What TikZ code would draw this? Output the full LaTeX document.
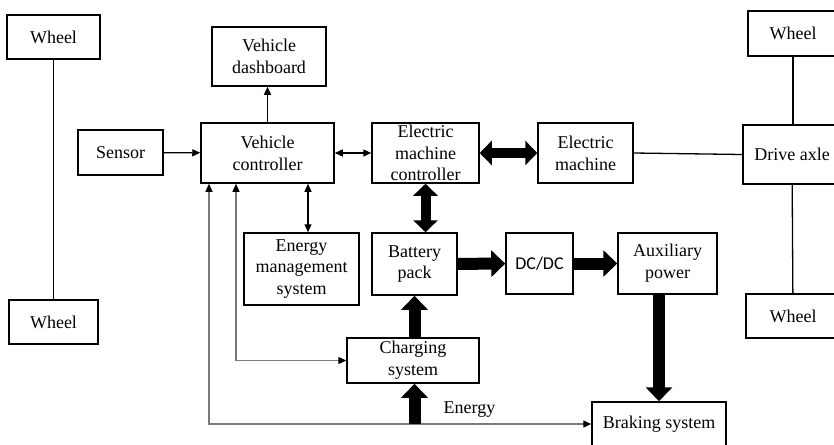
\documentclass[tikz,border=0pt]{standalone}
\usepackage{fontspec}
\setmainfont{Liberation Serif}
\newfontfamily\dcfont{Carlito}
\usepackage{xcolor}
\usepackage{tikz}
\usetikzlibrary{arrows.meta,positioning}
\definecolor{ink}{HTML}{000000}
\definecolor{wire}{HTML}{7A7A7A}

\begin{document}
\begin{tikzpicture}[x=1pt,y=-1pt,
    block/.style={draw=ink, line width=1.5pt, inner sep=0pt, align=center,
                  font=\fontsize{18}{21.7}\selectfont},
    link/.style={draw=ink, line width=1.3pt},
    sig/.style={link, -{Triangle[length=8pt,width=7pt]}},
    sigboth/.style={link, {Triangle[length=8pt,width=7pt]}-{Triangle[length=8pt,width=7pt]}},
    feed/.style={draw=wire, line width=1.2pt,
                 {Triangle[length=8pt,width=7pt,color=ink]}-{Triangle[length=8pt,width=7pt,color=ink]}},
    flow/.style={draw=ink, line width=12pt, -{Triangle[length=14pt,width=26pt]}},
    flowboth/.style={draw=ink, line width=10pt,
                     {Triangle[length=12pt,width=24pt]}-{Triangle[length=12pt,width=24pt]}}]
  \clip (0,0) rectangle (834,444);

  % wheels and drive axle
  \node[block, minimum width=93pt, minimum height=44pt] (wheelLT) at (53.5,37) {Wheel};
  \node[block, minimum width=89pt, minimum height=44pt] (wheelLB) at (53.5,322) {Wheel};
  \node[block, minimum width=90pt, minimum height=45pt] (wheelRT) at (793,33.5) {Wheel};
  \node[block, minimum width=94pt, minimum height=44pt] (wheelRB) at (793,316) {Wheel};
  \node[block, minimum width=98pt, minimum height=59pt] (axle) at (792,154.5) {Drive axle};

  % control side
  \node[block, minimum width=85pt, minimum height=45pt] (sensor) at (120.5,152.5) {Sensor};
  \node[block, minimum width=114pt, minimum height=59pt] (dash) at (269,56.5) {Vehicle\\dashboard};
  \node[block, minimum width=133pt, minimum height=60pt] (vc) at (267.5,153) {Vehicle\\controller};
  \node[block, minimum width=115pt, minimum height=72pt] (ems) at (301.5,269) {Energy\\management\\system};

  % power side
  \node[block, minimum width=107pt, minimum height=60pt] (emc) at (425.5,153) {Electric\\machine\\controller};
  \node[block, minimum width=95pt, minimum height=60pt] (em) at (585.5,153) {Electric\\machine};
  \node[block, minimum width=85pt, minimum height=62pt] (bat) at (414.5,264) {Battery\\pack};
  \node[block, minimum width=67pt, minimum height=61pt, font=\fontsize{18}{21.7}\dcfont] (dcdc) at (539.5,263.5) {DC/DC};
  \node[block, minimum width=99pt, minimum height=61pt] (aux) at (667.5,263.5) {Auxiliary\\power};
  \node[block, minimum width=132pt, minimum height=45pt] (chg) at (413,360.5) {Charging\\system};
  \node[block, minimum width=134pt, minimum height=44pt] (brake) at (659,424) {Braking system};

  % mechanical links
  \draw[link] (wheelLT) -- (wheelLB);
  \draw[link] (wheelRT.south) -- (wheelRT.south |- axle.north);
  \draw[link] (axle) -- (wheelRB);
  \draw[link] (em.east) -- (axle.west);

  % signals
  \draw[sig] (sensor) -- (vc);
  \draw[sig] (vc.north) -- (vc.north |- dash.south);
  \draw[sigboth] (vc) -- (emc);
  \draw[sigboth] ([xshift=6.5pt]ems.north |- vc.south) -- ([xshift=6.5pt]ems.north);
  \draw[feed] ([xshift=-31.5pt]vc.south) |- (chg.west);
  \draw[feed] ([xshift=-58.5pt]vc.south) |- (brake.west);

  % energy flow
  \draw[flowboth] (emc) -- (em);
  \draw[flowboth] (emc.south) -- (emc.south |- bat.north);
  \draw[flow] (bat) -- (dcdc);
  \draw[flow] (dcdc) -- (aux);
  \draw[flow] (aux.south -| brake.north) -- (brake.north);
  \draw[flow] (chg.north -| bat.south) -- (bat.south);
  \coordinate (tap) at (bat.south |- brake.west);
  \draw[flow] (tap) -- (tap |- chg.south);
  \node[anchor=base west, inner sep=0pt, font=\fontsize{18}{21.7}\selectfont]
    (energy) at ([xshift=29pt,yshift=11pt]tap) {Energy};
\end{tikzpicture}
\end{document}
